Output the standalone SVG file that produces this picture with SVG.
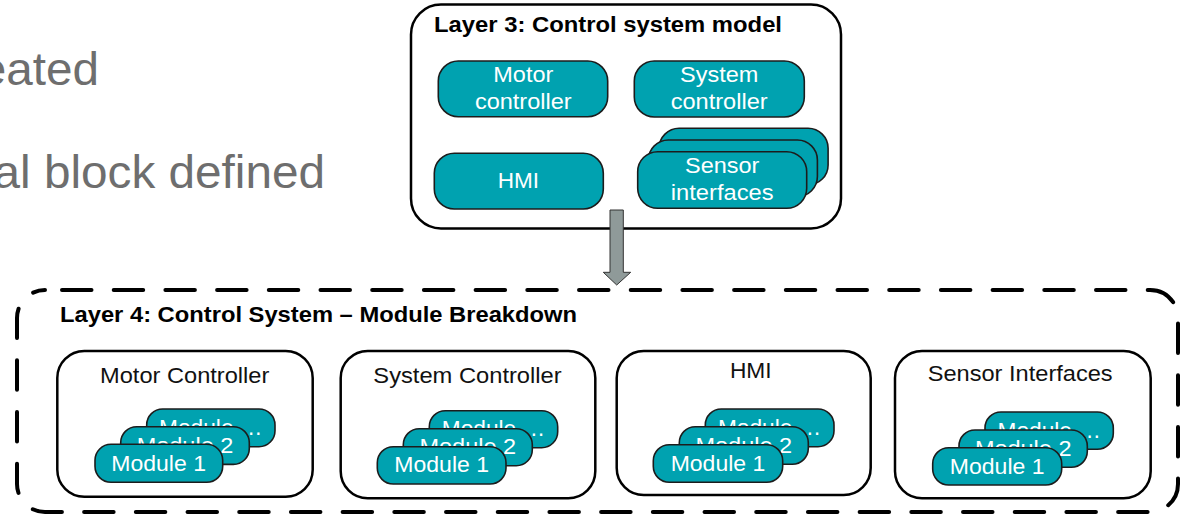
<svg xmlns="http://www.w3.org/2000/svg" width="1187" height="516" viewBox="0 0 1187 516">
<style>
.bg{fill:#ffffff}
.gray{font-family:"Liberation Sans",Arial,sans-serif;font-size:46px;fill:#6e6e6e}
.ttl{font-family:"Liberation Sans",Arial,sans-serif;font-size:22px;font-weight:bold;fill:#000}
.hdr{font-family:"Liberation Sans",Arial,sans-serif;font-size:21.5px;fill:#111;text-anchor:middle}
.wt{font-family:"Liberation Sans",Arial,sans-serif;font-size:21.5px;fill:#fff;text-anchor:middle}
.frame{fill:#fff;stroke:#000;stroke-width:2.5}
.dash{fill:none;stroke:#000;stroke-width:4;stroke-dasharray:29.5 22.2;stroke-dashoffset:34.7;stroke-linecap:round}
.teal{fill:#00a2b0;stroke:#1c1c1c;stroke-width:1.6}
.arrow{fill:#8f9a99;stroke:#333;stroke-width:1}
</style>
<rect class="bg" x="0" y="0" width="1187" height="516"/>

<g id="bullets">
<text class="gray" x="99" y="85" text-anchor="end" textLength="119.3" lengthAdjust="spacingAndGlyphs">eated</text>
<text class="gray" x="325" y="188" text-anchor="end" textLength="331.5" lengthAdjust="spacingAndGlyphs">al block defined</text>
</g>

<g id="layer3">
<rect class="frame" x="411" y="4.5" width="430" height="224" rx="30"/>
<text class="ttl" x="434" y="32" textLength="348" lengthAdjust="spacingAndGlyphs">Layer 3: Control system model</text>
</g>

<g id="l3-motor">
<rect class="teal" x="438.3" y="61" width="169.4" height="55.7" rx="20"/>
<text class="wt" x="523.3" y="81.7" textLength="60" lengthAdjust="spacingAndGlyphs">Motor</text>
<text class="wt" x="523.3" y="109.3" textLength="96.7" lengthAdjust="spacingAndGlyphs">controller</text>
</g>
<g id="l3-system">
<rect class="teal" x="634.3" y="61" width="170" height="56" rx="20"/>
<text class="wt" x="719.2" y="81.7" textLength="78.3" lengthAdjust="spacingAndGlyphs">System</text>
<text class="wt" x="719.2" y="109.3" textLength="97" lengthAdjust="spacingAndGlyphs">controller</text>
</g>
<g id="l3-hmi">
<rect class="teal" x="434.3" y="153.3" width="169" height="55.7" rx="20"/>
<text class="wt" x="518.3" y="188.3" textLength="41.3" lengthAdjust="spacingAndGlyphs">HMI</text>
</g>
<g id="l3-sensor">
<rect class="teal" x="659.1" y="128.3" width="169" height="56.6" rx="20"/>
<rect class="teal" x="648.4" y="140" width="169" height="56.6" rx="20"/>
<rect class="teal" x="637.7" y="151.7" width="169" height="56.6" rx="20"/>
<text class="wt" x="722.2" y="172.7" textLength="74.3" lengthAdjust="spacingAndGlyphs">Sensor</text>
<text class="wt" x="722.2" y="200" textLength="102.7" lengthAdjust="spacingAndGlyphs">interfaces</text>
</g>

<g id="layer4">
<rect class="dash" x="17" y="290" width="1161" height="222" rx="28"/>
<text class="ttl" x="60" y="321.7" textLength="517" lengthAdjust="spacingAndGlyphs">Layer 4: Control System – Module Breakdown</text>
</g>

<g id="l4-motor">
<rect class="frame" x="57.3" y="351" width="255.4" height="145.7" rx="27"/>
<text class="hdr" x="184.7" y="382.7" textLength="169.3" lengthAdjust="spacingAndGlyphs">Motor Controller</text>
<rect class="teal" x="146.7" y="409" width="128.3" height="37.7" rx="16"/>
<text class="wt" x="210.8" y="435" textLength="103.4" lengthAdjust="spacingAndGlyphs">Module …</text>
<rect class="teal" x="120.7" y="426.7" width="128.6" height="37.7" rx="16"/>
<text class="wt" x="185" y="452.7" textLength="96.6" lengthAdjust="spacingAndGlyphs">Module 2</text>
<rect class="teal" x="95" y="444.3" width="127.7" height="38" rx="16"/>
<text class="wt" x="158.6" y="470.7" textLength="94.7" lengthAdjust="spacingAndGlyphs">Module 1</text>
</g>

<g id="l4-system">
<rect class="frame" x="340.7" y="351" width="254.6" height="147.3" rx="27"/>
<text class="hdr" x="467.5" y="383.3" textLength="188.3" lengthAdjust="spacingAndGlyphs">System Controller</text>
<rect class="teal" x="429.3" y="410.7" width="128.4" height="37" rx="16"/>
<text class="wt" x="493.5" y="436.4" textLength="103.4" lengthAdjust="spacingAndGlyphs">Module …</text>
<rect class="teal" x="403.3" y="428.7" width="129" height="37" rx="16"/>
<text class="wt" x="467.8" y="454.4" textLength="96.6" lengthAdjust="spacingAndGlyphs">Module 2</text>
<rect class="teal" x="377.3" y="446.7" width="128.7" height="37.3" rx="16"/>
<text class="wt" x="441.7" y="471.7" textLength="94.7" lengthAdjust="spacingAndGlyphs">Module 1</text>
</g>

<g id="l4-hmi">
<rect class="frame" x="616.7" y="351" width="254" height="144" rx="27"/>
<text class="hdr" x="750.8" y="377.7" textLength="41.7" lengthAdjust="spacingAndGlyphs">HMI</text>
<rect class="teal" x="705.3" y="409" width="128.7" height="37.7" rx="16"/>
<text class="wt" x="769.6" y="435" textLength="103.4" lengthAdjust="spacingAndGlyphs">Module …</text>
<rect class="teal" x="679.3" y="426.7" width="129" height="37.6" rx="16"/>
<text class="wt" x="743.8" y="452.7" textLength="96.6" lengthAdjust="spacingAndGlyphs">Module 2</text>
<rect class="teal" x="653.3" y="444.7" width="129.4" height="37.6" rx="16"/>
<text class="wt" x="718" y="470.8" textLength="94.7" lengthAdjust="spacingAndGlyphs">Module 1</text>
</g>

<g id="l4-sensor">
<rect class="frame" x="895" y="351" width="255.7" height="147.3" rx="27"/>
<text class="hdr" x="1020.2" y="380.7" textLength="185" lengthAdjust="spacingAndGlyphs">Sensor Interfaces</text>
<rect class="teal" x="985" y="412" width="128.3" height="37.3" rx="16"/>
<text class="wt" x="1049.2" y="437.9" textLength="103.4" lengthAdjust="spacingAndGlyphs">Module …</text>
<rect class="teal" x="959" y="430" width="128.3" height="37.3" rx="16"/>
<text class="wt" x="1023.2" y="455.9" textLength="96.6" lengthAdjust="spacingAndGlyphs">Module 2</text>
<rect class="teal" x="932.7" y="447.7" width="129" height="37.3" rx="16"/>
<text class="wt" x="997.2" y="473.6" textLength="94.7" lengthAdjust="spacingAndGlyphs">Module 1</text>
</g>

<g id="connectors">
<polygon class="arrow" points="610,210 623.3,210 623.3,272.3 630.7,272.3 616.7,285 603.3,272.3 610,272.3"/>
</g>
</svg>
